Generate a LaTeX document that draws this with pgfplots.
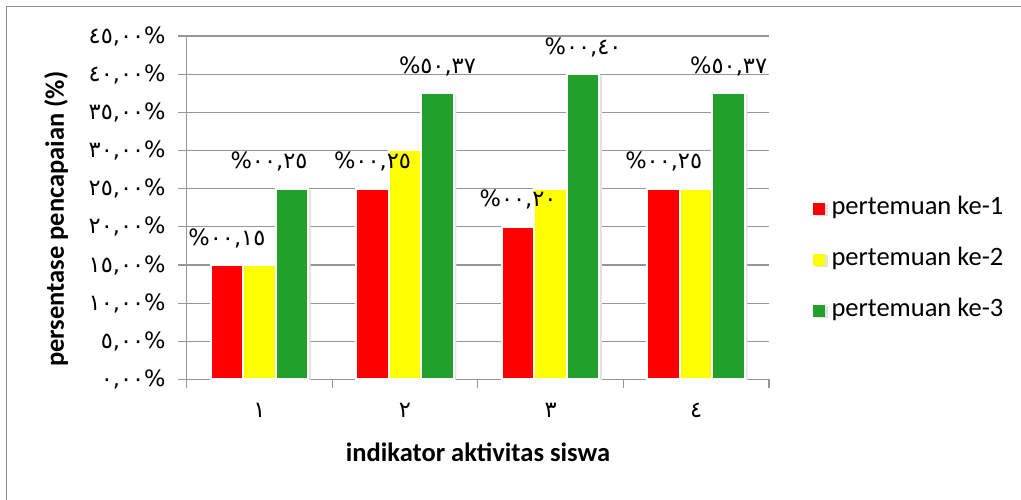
\documentclass[border=0pt]{standalone}
\usepackage{fontspec}
\setmainfont{Carlito}
\newfontfamily\ardig{DejaVu Sans}
\usepackage{pgfplots}
\pgfplotsset{compat=1.18}
\definecolor{cred}{RGB}{255,0,0}
\definecolor{cyellow}{RGB}{255,255,0}
\definecolor{cgreen}{RGB}{33,161,41}
\definecolor{gridgray}{RGB}{150,150,150}
\definecolor{framegray}{RGB}{140,140,140}
\definecolor{shadow}{RGB}{225,225,225}
\pgfplotsset{
  sq/.style={legend image code/.code={\fill[##1,draw=none] (0pt,-6pt) rectangle (12pt,6pt);}},
  barst/.style={draw=white, line width=2pt, preaction={draw=none, fill=shadow, transform canvas={xshift=2.5pt, yshift=-1.5pt}}},
}
\tikzset{lbl/.style={font=\ardig\fontsize{22.5}{22.5}\selectfont, anchor=center, inner sep=0pt}}
\begin{document}
\begin{tikzpicture}[x=1pt,y=1pt]
\useasboundingbox (0,0) rectangle (1021,500);
\draw[framegray, line width=1.2pt] (6.5,0) -- (6.5,493.5) -- (1021,493.5);
\begin{axis}[
  at={(186.6pt,120.5pt)}, anchor=south west,
  scale only axis, width=582.4pt, height=343.5pt,
  xmin=0.5, xmax=4.5, ymin=0, ymax=45,
  ybar, bar width=32.5pt,
  axis lines*=left,
  axis line style={gridgray, line width=1.3pt},
  ymajorgrids, grid style={gridgray, line width=1.3pt},
  ytick={0,5,...,45},
  yticklabels={{٠,٠٠\%},{٥,٠٠\%},{١٠,٠٠\%},{١٥,٠٠\%},{٢٠,٠٠\%},{٢٥,٠٠\%},{٣٠,٠٠\%},{٣٥,٠٠\%},{٤٠,٠٠\%},{٤٥,٠٠\%}},
  yticklabel style={xshift=-9pt},
  tick align=outside, major tick length=8.5pt,
  tick style={gridgray, line width=1.3pt},
  xtick={0.5,1.5,2.5,3.5,4.5}, xticklabels={},
  extra x ticks={1,2,3,4}, extra x tick labels={١,٢,٣,٤},
  extra x tick style={major tick length=0pt, tick label style={yshift=-20pt}},
  tick label style={font=\ardig\fontsize{22.5}{22.5}\selectfont, text=black},
  xlabel={indikator aktivitas siswa},
  xlabel style={font=\bfseries\fontsize{26.5}{26.5}\selectfont, at={(axis description cs:0.5003,-0.211)}, anchor=center},
  ylabel={persentase pencapaian (\%)},
  ylabel style={font=\bfseries\fontsize{26.5}{26.5}\selectfont, at={(axis description cs:-0.224,0.467)}, anchor=center},
  legend style={draw=none, fill=none, at={(axis description cs:1.0756,0.348)}, anchor=west,
    inner sep=0pt, outer sep=0pt, row sep=29pt,
    font=\fontsize{26.5}{26.5}\selectfont,
    nodes={inner ysep=0pt, inner xsep=6.5pt, text height=17pt, text depth=5pt}},
  legend cell align=left,
]
\addplot[fill=cred, barst, bar shift=-32.5pt, sq] coordinates {(1,15) (2,25) (3,20) (4,25)};
\addplot[fill=cyellow, barst, bar shift=0pt, sq] coordinates {(1,15) (2,30) (3,25) (4,25)};
\addplot[fill=cgreen, barst, bar shift=32.5pt, sq] coordinates {(1,25) (2,37.5) (3,40) (4,37.5)};
\legend{pertemuan ke-1, pertemuan ke-2, pertemuan ke-3}
\node[lbl] at (axis cs:0.777,18.54) {\%٠٠,١٥};
\node[lbl] at (axis cs:1.066,28.54) {\%٠٠,٢٥};
\node[lbl] at (axis cs:1.777,28.54) {\%٠٠,٢٥};
\node[lbl] at (axis cs:2.223,41.04) {\%٥٠,٣٧};
\node[lbl] at (axis cs:2.777,23.54) {\%٠٠,٢٠};
\node[lbl] at (axis cs:3.223,43.54) {\%٠٠,٤٠};
\node[lbl] at (axis cs:3.777,28.54) {\%٠٠,٢٥};
\node[lbl] at (axis cs:4.223,41.04) {\%٥٠,٣٧};
\end{axis}
\end{tikzpicture}
\end{document}
